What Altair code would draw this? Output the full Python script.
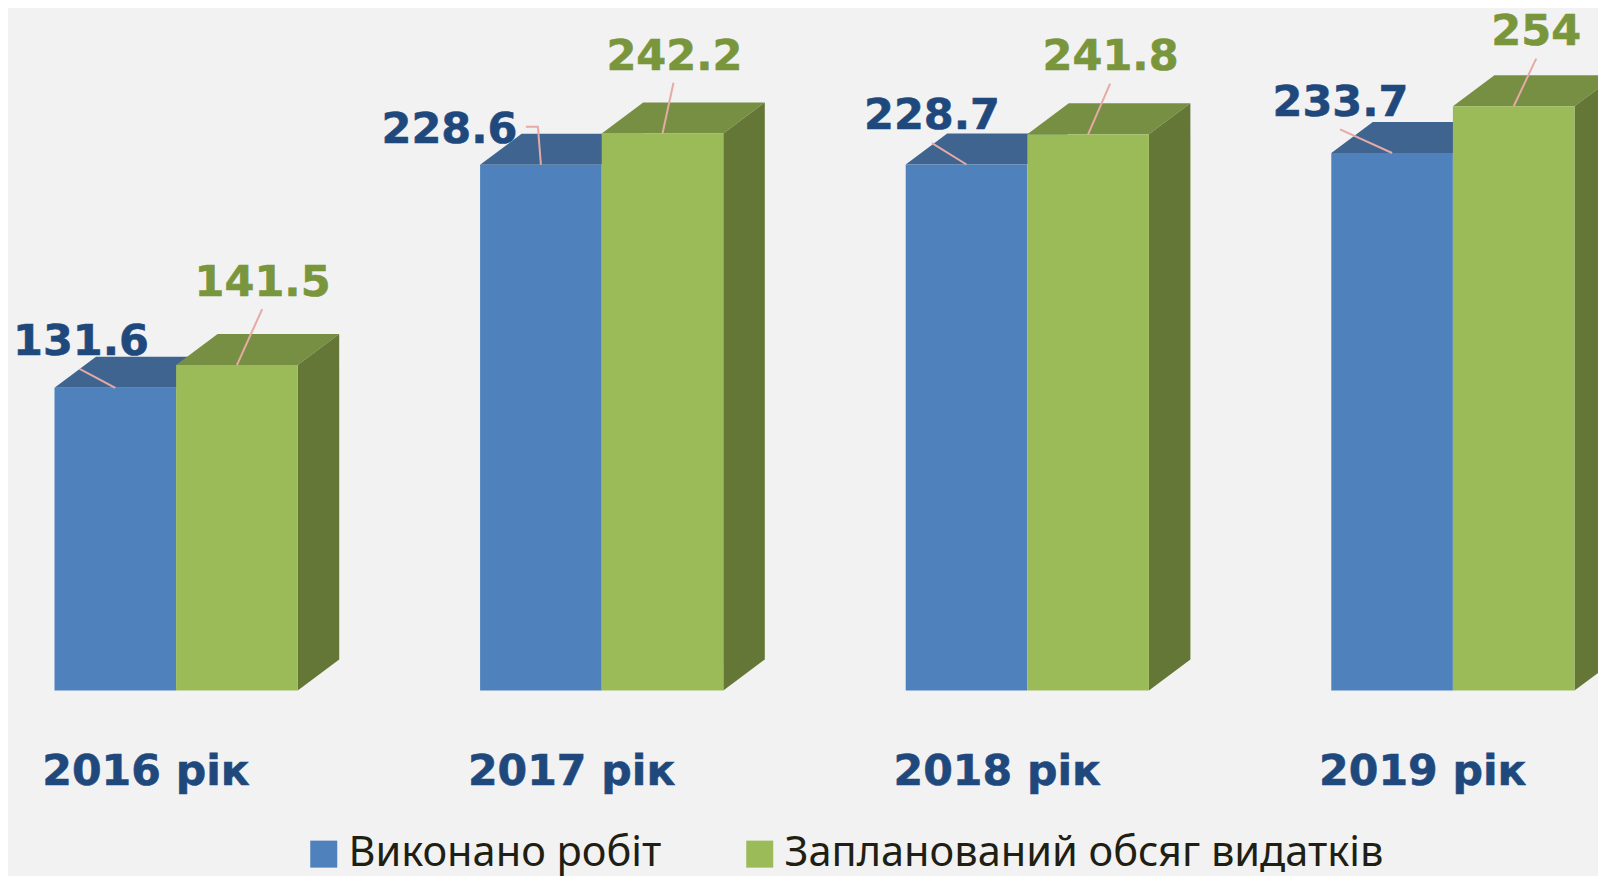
import altair as alt
import pandas as pd

years = ["2016 рік", "2017 рік", "2018 рік", "2019 рік"]
done = [131.6, 228.6, 228.7, 233.7]
plan = [141.5, 242.2, 241.8, 254]
series = ["Виконано робіт", "Запланований обсяг видатків"]

# layout (px-like units on the x scale; value units derive from PX)
W, H = 1590, 868
PX = 2.3            # px per value unit
BASE = 682.5        # baseline inside the plot
STEP, LEFT, BAR = 425.6, 46.5, 121.6
DX, DY = 41.5, 31.0
dv = DY / PX

BG, BLUE, GREEN = "#f2f2f2", "#4f81bd", "#9bbb59"
BLUE_TOP, GREEN_TOP, GREEN_SIDE = "#3f648f", "#778f42", "#647736"
BLUE_TXT, GREEN_TXT, LEAD = "#1f497d", "#7a963c", "#e6aaa6"

# label offsets from the bar-top centre: (dx, height above top), px
lab_off = [[(-34.3, 33.0), (25.7, 69.5)],
           [(-91.4, 21.8), (11.9, 63.8)],
           [(-34.5, 35.3), (22.5, 64.2)],
           [(-51.6, 36.5), (22.5, 61.7)]]
# leader vertices, same convention
lead_off = [[[(-35.7, 19.0), (0, 0)], [(25.3, 56.0), (0, 0)]],
            [[(-15.0, 38.0), (-3.0, 38.0), (0, 0)], [(11.0, 50.7), (0, 0)]],
            [[(-34.5, 21.3), (0, 0)], [(22.0, 50.7), (0, 0)]],
            [[(-52.0, 23.7), (0, 0)], [(22.5, 47.7), (0, 0)]]]

fronts, tops, sides, labels, leads = [], [], [], [], []
for i, yr in enumerate(years):
    for s, vals in enumerate((done, plan)):
        v = vals[i]
        l = LEFT + i * STEP + s * BAR
        r = l + BAR
        fronts.append(dict(series=series[s], s=s, l=l, r=r, v=v, z=0))
        key = f"{i}-{s}"
        for x, lo, hi in [(l, v, v), (l + DX, v, v + dv), (r, v, v + dv), (r + DX, v + dv, v + dv)]:
            tops.append(dict(key=key, s=s, x=x, lo=lo, hi=hi))
        for x, lo, hi in [(r, 0, v), (r + DX, dv, v + dv)]:
            sides.append(dict(key=key, s=s, x=x, lo=lo, hi=hi))
        c = l + BAR / 2
        dx, up = lab_off[i][s]
        labels.append(dict(s=s, x=c + dx, y=v + up / PX, t=str(v)))
        for k, (dx, up) in enumerate(lead_off[i][s]):
            leads.append(dict(key=key, k=k, x=c + dx, y=v + up / PX))

front_df, top_df, side_df = pd.DataFrame(fronts), pd.DataFrame(tops), pd.DataFrame(sides)
lab_df, lead_df = pd.DataFrame(labels), pd.DataFrame(leads)
# category text baseline sits about 94 px under the baseline of the bars
cat_df = pd.DataFrame(dict(t=years, x=[138.0 + i * STEP for i in range(4)], y=[-94.2 / PX] * 4))

xs = alt.Scale(domain=[0, W], nice=False, zero=False)
ys = alt.Scale(domain=[(BASE - H) / PX, BASE / PX], nice=False, zero=False)
X = alt.X("x:Q", scale=xs, axis=None)
Y = alt.Y("y:Q", scale=ys, axis=None)


def face(df, s, color):
    return alt.Chart(df[df.s == s]).mark_area(orient="vertical", color=color, clip=True).encode(
        x=alt.X("x:Q", scale=xs, axis=None),
        y=alt.Y("lo:Q", scale=ys, axis=None),
        y2="hi:Q",
        detail="key:N",
    )


color = alt.Color(
    "series:N",
    scale=alt.Scale(domain=series, range=[BLUE, GREEN]),
    legend=alt.Legend(
        title=None, orient="none", legendX=295, legendY=825, direction="horizontal",
        symbolType="square", symbolSize=729, symbolStrokeWidth=0, symbolOpacity=1,
        labelFont="Noto Sans", labelFontSize=41.5, labelColor="#1f1f14", labelLimit=800,
        labelOffset=4, columnPadding=77, padding=0,
    ),
)


def front(s):
    return alt.Chart(front_df[front_df.s == s]).mark_bar(clip=True).encode(
        x=alt.X("l:Q", scale=xs, axis=None), x2="r:Q",
        y=alt.Y("z:Q", scale=ys, axis=None), y2="v:Q",
        color=color,
    )


leader = alt.Chart(lead_df).mark_line(color=LEAD, strokeWidth=2).encode(
    x=X, y=Y, detail="key:N", order="k:Q")


def val_text(s, col):
    return alt.Chart(lab_df[lab_df.s == s]).mark_text(
        font="DejaVu Sans", fontWeight="bold", fontSize=43, color=col, stroke=col, strokeWidth=0.6,
        align="center", baseline="alphabetic",
    ).encode(x=X, y=Y, text="t:N")


cats = alt.Chart(cat_df).mark_text(
    font="DejaVu Sans", fontWeight="bold", fontSize=42.6, color=BLUE_TXT, stroke=BLUE_TXT, strokeWidth=0.6,
    align="center", baseline="alphabetic",
).encode(x=X, y=Y, text="t:N")

chart = alt.layer(
    face(top_df, 0, BLUE_TOP), front(0),
    face(top_df, 1, GREEN_TOP), face(side_df, 1, GREEN_SIDE), front(1),
    leader, val_text(0, BLUE_TXT), val_text(1, GREEN_TXT), cats,
).properties(
    width=W, height=H, background=BG, padding=0,
    autosize=alt.AutoSizeParams(type="none"),
).configure_view(stroke=None)

chart.save("out.html", embed_options={"renderer": "svg", "actions": False})
